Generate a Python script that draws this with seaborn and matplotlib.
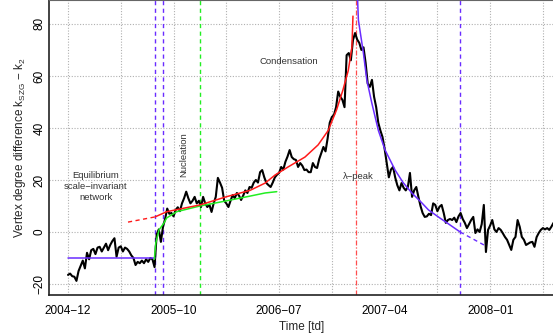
import matplotlib
matplotlib.use("Agg")
import matplotlib.pyplot as plt
import numpy as np
import pandas as pd
import seaborn as sns

# observed degree difference, one value every 4 trading days from td 0
TD_STEP = 4
K_DIFF = [
    -16.5, -16, -17, -17.2, -18.8, -15, -13, -11, -14, -8,
    -10.5, -7, -6.5, -8.5, -6, -5.7, -7.5, -6, -4.5, -7,
    -5, -3.5, -2.4, -9.5, -6, -5.5, -7.5, -6, -6.5, -7.5,
    -9, -10, -12.7, -11.5, -12, -11, -12, -10.5, -11.5, -10,
    -10.5, -13.5, -1, 1, -3.8, 2, 5, 9, 7, 7.3,
    6, 8.5, 9.5, 8, 11, 13, 15.5, 13, 11, 12,
    13.5, 11, 12, 9.6, 13.5, 11, 9.6, 10.5, 7.7, 11,
    13.5, 20.8, 19, 17, 12, 11, 9.6, 12, 14.2, 13,
    15, 14, 12.3, 14, 16, 15, 17.3, 17, 19, 20,
    19, 23, 23.8, 21, 18.8, 18, 17.3, 19, 21, 22,
    22.7, 25, 24, 27, 29, 31.5, 28.8, 28, 27.7, 25,
    26.5, 25.5, 23.8, 24, 23, 23, 26.5, 25, 24.6, 28,
    30.4, 32.7, 31, 36, 42, 44.2, 45, 48, 54, 52,
    50.8, 48, 68, 68.8, 66, 73.8, 76.5, 74, 72.7, 70,
    71, 65, 57, 55.8, 58.5, 52, 48, 42, 39, 36.5,
    32, 26.5, 21, 24, 25, 21, 18, 16, 18.8, 17,
    16, 17.3, 22.7, 13.5, 16, 17.3, 13.5, 10, 7.3, 5.8,
    6, 7, 6.5, 11, 10.4, 8, 9.7, 10.4, 7.3, 3.5,
    4.6, 5, 4.6, 5.5, 3.8, 6, 7.3, 5, 3.5, 1.5,
    3, 4.6, 5.8, -0.4, 1, 0, 3, 10.4, -7.7, 0.8,
    2.5, 4.6, 1, 0, 1.5, 0.8, -0.5, -1.9, -3, -5,
    -6.9, -3, -1.9, 4.6, 2, -1.9, -3, -5, -4.5, -4,
    -3.8, -5.7, -2, -0.4, 0.8, 1.5, 1, 1.5, 0.8, 2,
    3.5,
]

# equilibrium level
EQ_TD = [0, 164]
EQ_K = [-10, -10]

# nucleation fit (green)
NUC_TD = [163.6, 166.3, 172.5, 182, 187, 206, 250, 301, 345, 373.5, 395.6]
NUC_K = [-10.5, -4.3, 0.8, 3.5, 5.4, 7.8, 10, 12, 13.8, 15, 15.5]

# condensation fit (red), dashed before td 165
COND_DASH_TD = [113.7, 165]
COND_DASH_K = [3.8, 5.8]
COND_TD = [165, 187, 250, 301, 345, 373.5, 392.4, 417, 449, 474, 493, 509, 521, 531, 538, 540]
COND_K = [5.8, 7.8, 10.4, 13.6, 16, 18.8, 21.9, 25, 28.8, 33.5, 39, 47, 54.6, 62, 71, 83]

# relaxation fit (blue), dashed after td 743
RELAX_TD = [548.8, 550.3, 559.8, 566.2, 575.7, 588.2, 600.9, 619.9, 635, 651.6, 670, 683, 705.2, 714.7, 743.1]
RELAX_K = [89.2, 81.5, 68.8, 58.5, 49.6, 39, 31.5, 23.8, 19, 15, 11.3, 8.5, 5.3, 4, 0]
RELAX_DASH_TD = [743.1, 793.7]
RELAX_DASH_K = [0, -5.6]

# phase boundaries
BLUE_MARKS = [165, 180, 743]
GREEN_MARK = 251
PEAK_MARK = 545

TICK_TD = [0, 200, 400, 600, 800]
TICK_LABELS = ["2004\u221212", "2005\u221210", "2006\u221207", "2007\u221204", "2008\u221201"]
MINOR_TD = [100, 300, 500, 700, 900]
Y_TICKS = [-20, 0, 20, 40, 60, 80]

BLUE = "#6a2cff"
RED = "#ff1a1a"
GREEN = "#22ee22"

sns.set_theme(style="white")
plt.rcParams["font.family"] = ["Liberation Sans", "DejaVu Sans"]
plt.rcParams["axes.unicode_minus"] = True


def main():
    series = pd.DataFrame(
        {"td": np.arange(len(K_DIFF)) * TD_STEP, "k": K_DIFF}
    )

    fig = plt.figure(figsize=(5.53, 3.34), dpi=100)
    ax = fig.add_axes([0.0893, 0.117, 0.911, 0.883])

    ax.set_xlim(-35.3, 919.4)
    ax.set_ylim(-24.2, 89.2)

    # grid
    for t in TICK_TD + MINOR_TD:
        ax.axvline(t, color="#b0b0b0", lw=0.8, ls=(0, (1, 1.5)), zorder=0)
    for y in Y_TICKS:
        ax.axhline(y, color="#b0b0b0", lw=0.8, ls=(0, (1, 1.5)), zorder=0)

    for t in BLUE_MARKS:
        ax.axvline(t, color=BLUE, lw=1.0, ls=(0, (3, 2.5)), zorder=1)
    ax.axvline(GREEN_MARK, color=GREEN, lw=1.0, ls=(0, (3, 2.5)), zorder=1)
    ax.axvline(PEAK_MARK, color="#ff4d4d", lw=0.9,
               ls=(0, (4, 1.5, 1, 1.5)), zorder=1)

    sns.lineplot(data=series, x="td", y="k", color="black", lw=1.5,
                 ax=ax, zorder=3)

    sns.lineplot(x=EQ_TD, y=EQ_K, color=BLUE, lw=1.1, ax=ax, zorder=4)
    sns.lineplot(x=NUC_TD, y=NUC_K, color=GREEN, lw=1.1, ax=ax, zorder=4)
    sns.lineplot(x=COND_DASH_TD, y=COND_DASH_K, color=RED, lw=1.0,
                 linestyle=(0, (3, 2.5)), ax=ax, zorder=4)
    sns.lineplot(x=COND_TD, y=COND_K, color=RED, lw=1.1, ax=ax, zorder=4)
    sns.lineplot(x=RELAX_TD, y=RELAX_K, color=BLUE, lw=1.1, ax=ax, zorder=4)
    sns.lineplot(x=RELAX_DASH_TD, y=RELAX_DASH_K, color=BLUE, lw=1.0,
                 linestyle=(0, (3, 2.5)), ax=ax, zorder=4)

    txt = dict(fontsize=6.8, color="#333333", ha="center", va="center")
    ax.text(53, 17.4, "Equilibrium\nscale\u2212invariant\nnetwork",
            linespacing=1.25, **txt)
    ax.text(220, 29.7, "Nucleation", rotation=90, **txt)
    ax.text(419, 65.4, "Condensation", **txt)
    ax.text(550, 21.5, "\u03bb\u2212peak", **txt)

    ax.set_xticks(TICK_TD + MINOR_TD)
    ax.set_xticklabels(TICK_LABELS + [""] * len(MINOR_TD))
    ax.set_yticks(Y_TICKS)
    ax.set_yticklabels([str(v).replace("-", "\u2212") for v in Y_TICKS],
                       rotation=90, va="center")
    ax.tick_params(axis="both", direction="in", length=3, width=0.8,
                   labelsize=8.5, colors="black")
    ax.tick_params(axis="x", pad=7)
    ax.tick_params(axis="y", pad=3)

    ax.set_xlabel("Time [td]", fontsize=8.5, labelpad=3)
    ax.set_ylabel("Vertex degree difference k$_{\\mathregular{SZG}}$ \u2212 k$_{\\mathregular{2}}$",
                  fontsize=8.5, labelpad=4)

    for side in ["left", "bottom", "top"]:
        ax.spines[side].set_color("#222222")
        ax.spines[side].set_linewidth(1.2)
    ax.spines["right"].set_visible(False)
    ax.spines["top"].set_color("#666666")
    ax.spines["top"].set_linewidth(0.8)

    fig.savefig("out.png", dpi=100)
    plt.close(fig)


if __name__ == "__main__":
    main()
